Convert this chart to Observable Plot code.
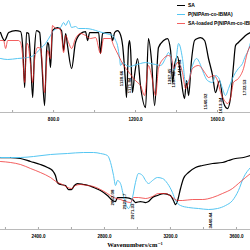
<!DOCTYPE html>
<html><head><meta charset="utf-8">
<script src="https://cdn.jsdelivr.net/npm/d3@7"></script>
<script src="https://cdn.jsdelivr.net/npm/@observablehq/plot@0.6"></script>
<style>
html,body{margin:0;padding:0;background:#fff;}
#chart{position:relative;width:250px;height:250px;overflow:hidden;background:#fff;}
#chart svg{display:block;}
.legend{position:absolute;left:177px;top:0.5px;font:bold 5px "Liberation Sans",Arial,sans-serif;white-space:nowrap;color:#000;}
.legend div{height:9px;display:flex;align-items:center;}
.legend span.sw{display:inline-block;width:8px;height:0;margin-right:3px;}
.xtitle{position:absolute;left:85px;width:100px;text-align:center;top:241px;font:bold 6.5px "Liberation Serif","DejaVu Serif",serif;color:#000;}
</style></head><body><div id="chart"></div>
<script>
// ---------- DATA ----------
const seriesNames = ["SA", "P(NIPAm-co-IBMA)", "SA-loaded P(NIPAm-co-IBMA)"];

// Top panel (fingerprint region), wavenumber cm-1 and transmittance (a.u.)
const saTopWn = [541,561,581,615,639,649,659,668,678,688,698,707,717,732,742,756,766,771,776,785,795,820,839,849,859,868,888,907,932,956,966,976,1020,1029,1039,1063,1078,1088,1098,1112,1122,1137,1151,1156,1166,1171,1176,1185,1195,1210,1224,1249,1263,1278,1293,1312,1337,1356,1371,1381,1390,1405,1420,1439,1449,1459,1473,1488,1502,1517,1537,1556,1576,1590,1610,1629,1649,1663,1678,1688,1702,1722,1737,1761];
const saTopT  = [80,72,80,82,81,67,25,80,79,52,15,62,82,80,52,7,62,70,68,45,82,85,82,62,79,67,44,70,79,81,72,80,80,59,79,80,80,72,80,82,80,67,30,15,67,72,62,20,37,54,27,5,74,52,7,65,72,74,62,30,47,56,37,14,32,17,52,72,74,75,72,54,37,20,32,10,4,14,47,67,70,74,77,80];

const pTopWn = [541,576,624,673,702,737,761,785,800,820,834,849,859,873,888,907,922,956,990,1020,1054,1088,1103,1112,1122,1127,1137,1156,1176,1190,1224,1249,1273,1298,1322,1346,1361,1376,1390,1410,1429,1444,1459,1478,1498,1512,1527,1551,1576,1590,1605,1624,1639,1654,1673,1688,1702,1722,1737,1746,1761];
const pTopT  = [54,53,54,55,57,64,69,77,82,84,85,90,87,92,85,86,84,84,83,81,79,77,72,67,54,47,50,47,46,47,49,50,49,48,47,54,60,52,42,69,54,30,32,47,54,50,42,32,30,37,35,24,17,24,34,40,44,49,57,60,70];

const lTopWn = [541,556,566,576,629,639,649,659,668,673,688,698,707,722,737,756,771,785,795,810,829,839,849,859,873,888,907,932,956,981,1005,1029,1044,1078,1093,1117,1142,1161,1176,1190,1210,1224,1244,1263,1278,1298,1312,1337,1361,1376,1385,1405,1429,1444,1459,1478,1507,1541,1556,1581,1600,1615,1634,1649,1663,1678,1702,1727,1746,1761];
const lTopT  = [72,72,64,72,72,70,57,30,67,69,47,30,52,65,64,20,62,54,87,84,84,77,60,77,70,64,74,79,77,74,75,59,74,74,67,57,47,42,38,34,30,27,17,47,37,17,44,54,57,54,44,50,40,24,30,44,47,39,35,37,32,20,12,9,14,30,34,44,60,67];

// Bottom panel (high wavenumber region)
const saBotWn = [2170,2231,2291,2352,2412,2455,2485,2503,2515,2534,2564,2582,2600,2618,2637,2673,2703,2734,2776,2818,2849,2867,2879,2897,2928,2970,2988,3018,3049,3067,3091,3121,3158,3200,3218,3231,3243,3261,3279,3309,3352,3394,3455,3515,3552,3594,3643,3685];
const saBotT  = [72,72,71,68,65,62,59,54,47,45,44,40,40,44,46,45,44,42,39,34,29,28,32,32,32,30,27,28,27,28,32,34,36,34,29,25,29,41,51,57,62,64,66,67,69,71,72,74];

const pBotWn = [2170,2291,2370,2473,2576,2673,2734,2776,2818,2837,2855,2867,2879,2897,2915,2928,2946,2970,2988,3006,3031,3049,3067,3091,3121,3152,3182,3212,3231,3261,3309,3370,3430,3485,3534,3576,3612,3643,3685];
const pBotT  = [72,72,73,75,76,77,77,76,74,67,54,44,49,46,34,26,21,32,47,56,54,49,46,49,52,51,46,37,29,24,22,21,20,21,24,29,39,52,62];

const lBotWn = [2170,2231,2291,2352,2412,2473,2515,2546,2576,2600,2624,2655,2697,2734,2776,2818,2855,2897,2928,2958,2976,3006,3049,3091,3127,3170,3212,3243,3273,3333,3394,3455,3515,3576,3612,3655,3685];
const lBotT  = [68,67,65,61,57,52,47,45,42,41,44,45,44,43,40,36,32,30,28,27,32,32,31,33,36,36,32,29,29,30,30,32,36,41,46,52,56];

// Peak annotations (label text = wavenumber) and their vertical level
const topPeakLabels = ["1130.66","1171.84","1367.45","1387.02","1413.84","1540.02","1613.34","1732.53"];
const topPeakLevels = [34,27,36,33,45,11,7,25];
const botPeakLabels = ["2852.08","2921.17","2971.33","3440.44"];
const botPeakLevels = [32,28,18,9];

// Axis ticks
const topMinorTicks = [600,800,1000,1200,1400,1600];
const topTickLabels = [800,1200,1600];
const botMinorTicks = [2200,2400,2600,2800,3000,3200,3400,3600];
const botTickLabels = [2400,2800,3200,3600];
const xTitle = "Wavenumbers/cm⁻¹";

// ---------- STYLE ----------
const colors = ["#000000", "#55c6f2", "#ee2222"];
const widths = [1.25, 1, 1];
const opac = [1, 1, 0.72];
const axisColor = "#a8a8a8";
const sans = "'Liberation Sans', Arial, sans-serif";

const rows = (wn, t) => wn.map((w, i) => ({wn: w, t: t[i]}));

function panel({domain, ymax, height, marginBottom, series, minor, labels, peaks, levels}) {
  return Plot.plot({
    width: 250, height, marginTop: 0, marginRight: 0, marginLeft: 0, marginBottom,
    x: {domain, label: null},
    y: {domain: [0, ymax], axis: null},
    style: {background: "transparent", fontFamily: sans},
    marks: [
      Plot.ruleY([0], {stroke: axisColor, strokeWidth: 0.8}),
      Plot.axisX(minor, {tickSize: -2, tickFormat: () => "", stroke: axisColor}),
      Plot.axisX(labels, {tickSize: 0, tickPadding: 5.5, tickFormat: d => d.toFixed(1),
        fontSize: 4.6, fontWeight: "bold", fill: "#000", fontFamily: sans}),
      ...series.map((s, i) => Plot.line(rows(s[0], s[1]), {
        x: "wn", y: "t", stroke: colors[i], strokeWidth: widths[i], strokeOpacity: opac[i],
        curve: "monotone-x"
      })),
      Plot.text(peaks, {
        x: d => parseFloat(d), y: (d, i) => levels[i], text: d => d,
        rotate: -90, fontSize: 4.4, fontWeight: "bold", fill: "#000",
        textAnchor: "middle", lineAnchor: "middle", fontFamily: sans
      })
    ]
  });
}

const chart = document.getElementById("chart");
chart.appendChild(panel({
  domain: [541, 1761], ymax: 112, height: 125, marginBottom: 13,
  series: [[saTopWn, saTopT], [pTopWn, pTopT], [lTopWn, lTopT]],
  minor: topMinorTicks, labels: topTickLabels, peaks: topPeakLabels, levels: topPeakLevels
}));
chart.appendChild(panel({
  domain: [2170, 3685], ymax: 104, height: 125, marginBottom: 21,
  series: [[saBotWn, saBotT], [pBotWn, pBotT], [lBotWn, lBotT]],
  minor: botMinorTicks, labels: botTickLabels, peaks: botPeakLabels, levels: botPeakLevels
}));

// legend
const leg = document.createElement("div");
leg.className = "legend";
seriesNames.forEach((n, i) => {
  const row = document.createElement("div");
  const sw = document.createElement("span");
  sw.className = "sw";
  sw.style.borderTop = `1.2px solid ${colors[i]}`;
  sw.style.opacity = opac[i];
  row.appendChild(sw);
  row.appendChild(document.createTextNode(n));
  leg.appendChild(row);
});
chart.appendChild(leg);

const xt = document.createElement("div");
xt.className = "xtitle";
xt.textContent = xTitle;
chart.appendChild(xt);
</script></body></html>
